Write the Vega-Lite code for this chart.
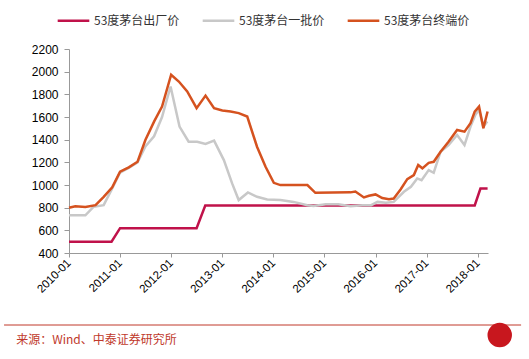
{
  "$schema": "https://vega.github.io/schema/vega-lite/v6.json",
  "background": "white",
  "padding": {"left": 3, "top": 3, "right": 5, "bottom": 4},
  "config": {"view": {"stroke": null}, "font": "Liberation Sans", "concat": {"spacing": 72}},
  "datasets": {
    "prices": [
      {"series": "53度茅台出厂价", "date": "2010-01-01", "value": 499},
      {"series": "53度茅台出厂价", "date": "2010-11-01", "value": 499},
      {"series": "53度茅台出厂价", "date": "2011-01-01", "value": 619},
      {"series": "53度茅台出厂价", "date": "2012-07-01", "value": 619},
      {"series": "53度茅台出厂价", "date": "2012-09-01", "value": 819},
      {"series": "53度茅台出厂价", "date": "2017-12-10", "value": 819},
      {"series": "53度茅台出厂价", "date": "2018-01-20", "value": 969},
      {"series": "53度茅台出厂价", "date": "2018-03-12", "value": 969},

      {"series": "53度茅台一批价", "date": "2010-01-01", "value": 733},
      {"series": "53度茅台一批价", "date": "2010-04-28", "value": 733},
      {"series": "53度茅台一批价", "date": "2010-06-25", "value": 807},
      {"series": "53度茅台一批价", "date": "2010-09-06", "value": 822},
      {"series": "53度茅台一批价", "date": "2010-11-06", "value": 970},
      {"series": "53度茅台一批价", "date": "2011-01-01", "value": 1110},
      {"series": "53度茅台一批价", "date": "2011-03-04", "value": 1150},
      {"series": "53度茅台一批价", "date": "2011-05-06", "value": 1200},
      {"series": "53度茅台一批价", "date": "2011-07-01", "value": 1340},
      {"series": "53度茅台一批价", "date": "2011-09-01", "value": 1430},
      {"series": "53度茅台一批价", "date": "2011-10-28", "value": 1600},
      {"series": "53度茅台一批价", "date": "2011-12-28", "value": 1869},
      {"series": "53度茅台一批价", "date": "2012-03-01", "value": 1515},
      {"series": "53度茅台一批价", "date": "2012-05-05", "value": 1382},
      {"series": "53度茅台一批价", "date": "2012-07-05", "value": 1382},
      {"series": "53度茅台一批价", "date": "2012-09-03", "value": 1362},
      {"series": "53度茅台一批价", "date": "2012-11-03", "value": 1391},
      {"series": "53度茅台一批价", "date": "2013-01-12", "value": 1220},
      {"series": "53度茅台一批价", "date": "2013-03-12", "value": 1014},
      {"series": "53度茅台一批价", "date": "2013-04-28", "value": 867},
      {"series": "53度茅台一批价", "date": "2013-07-03", "value": 934},
      {"series": "53度茅台一批价", "date": "2013-09-06", "value": 896},
      {"series": "53度茅台一批价", "date": "2013-11-18", "value": 872},
      {"series": "53度茅台一批价", "date": "2014-02-20", "value": 867},
      {"series": "53度茅台一批价", "date": "2014-05-25", "value": 851},
      {"series": "53度茅台一批价", "date": "2014-09-01", "value": 822},
      {"series": "53度茅台一批价", "date": "2014-10-15", "value": 815},
      {"series": "53度茅台一批价", "date": "2015-01-10", "value": 831},
      {"series": "53度茅台一批价", "date": "2015-04-10", "value": 831},
      {"series": "53度茅台一批价", "date": "2015-07-06", "value": 813},
      {"series": "53度茅台一批价", "date": "2015-10-01", "value": 822},
      {"series": "53度茅台一批价", "date": "2015-12-01", "value": 822},
      {"series": "53度茅台一批价", "date": "2016-01-15", "value": 851},
      {"series": "53度茅台一批价", "date": "2016-03-15", "value": 843},
      {"series": "53度茅台一批价", "date": "2016-05-10", "value": 851},
      {"series": "53度茅台一批价", "date": "2016-07-22", "value": 940},
      {"series": "53度茅台一批价", "date": "2016-09-10", "value": 984},
      {"series": "53度茅台一批价", "date": "2016-10-25", "value": 1058},
      {"series": "53度茅台一批价", "date": "2016-11-25", "value": 1043},
      {"series": "53度茅台一批价", "date": "2017-01-15", "value": 1132},
      {"series": "53度茅台一批价", "date": "2017-02-20", "value": 1108},
      {"series": "53度茅台一批价", "date": "2017-04-10", "value": 1294},
      {"series": "53度茅台一批价", "date": "2017-06-06", "value": 1353},
      {"series": "53度茅台一批价", "date": "2017-08-06", "value": 1441},
      {"series": "53度茅台一批价", "date": "2017-09-28", "value": 1353},
      {"series": "53度茅台一批价", "date": "2017-11-10", "value": 1515},
      {"series": "53度茅台一批价", "date": "2017-12-15", "value": 1619},
      {"series": "53度茅台一批价", "date": "2018-01-10", "value": 1663},
      {"series": "53度茅台一批价", "date": "2018-02-10", "value": 1515},
      {"series": "53度茅台一批价", "date": "2018-03-10", "value": 1560},

      {"series": "53度茅台终端价", "date": "2010-01-01", "value": 800},
      {"series": "53度茅台终端价", "date": "2010-02-15", "value": 813},
      {"series": "53度茅台终端价", "date": "2010-04-28", "value": 807},
      {"series": "53度茅台终端价", "date": "2010-07-10", "value": 822},
      {"series": "53度茅台终端价", "date": "2010-09-06", "value": 896},
      {"series": "53度茅台终端价", "date": "2010-11-06", "value": 979},
      {"series": "53度茅台终端价", "date": "2011-01-01", "value": 1117},
      {"series": "53度茅台终端价", "date": "2011-03-04", "value": 1156},
      {"series": "53度茅台终端价", "date": "2011-05-06", "value": 1205},
      {"series": "53度茅台终端价", "date": "2011-07-01", "value": 1397},
      {"series": "53度茅台终端价", "date": "2011-09-01", "value": 1559},
      {"series": "53度茅台终端价", "date": "2011-10-28", "value": 1692},
      {"series": "53度茅台终端价", "date": "2012-01-01", "value": 1973},
      {"series": "53度茅台终端价", "date": "2012-02-25", "value": 1913},
      {"series": "53度茅台终端价", "date": "2012-04-25", "value": 1825},
      {"series": "53度茅台终端价", "date": "2012-07-01", "value": 1678},
      {"series": "53度茅台终端价", "date": "2012-09-03", "value": 1789},
      {"series": "53度茅台终端价", "date": "2012-11-03", "value": 1678},
      {"series": "53度茅台终端价", "date": "2013-01-01", "value": 1657},
      {"series": "53度茅台终端价", "date": "2013-03-01", "value": 1648},
      {"series": "53度茅台终端价", "date": "2013-04-28", "value": 1634},
      {"series": "53度茅台终端价", "date": "2013-06-28", "value": 1604},
      {"series": "53度茅台终端价", "date": "2013-09-06", "value": 1338},
      {"series": "53度茅台终端价", "date": "2013-11-06", "value": 1161},
      {"series": "53度茅台终端价", "date": "2014-01-04", "value": 1019},
      {"series": "53度茅台终端价", "date": "2014-02-20", "value": 999},
      {"series": "53度茅台终端价", "date": "2014-09-01", "value": 999},
      {"series": "53度茅台终端价", "date": "2014-10-28", "value": 931},
      {"series": "53度茅台终端价", "date": "2015-07-06", "value": 935},
      {"series": "53度茅台终端价", "date": "2015-08-10", "value": 942},
      {"series": "53度茅台终端价", "date": "2015-10-10", "value": 890},
      {"series": "53度茅台终端价", "date": "2015-11-15", "value": 905},
      {"series": "53度茅台终端价", "date": "2016-01-01", "value": 917},
      {"series": "53度茅台终端价", "date": "2016-02-18", "value": 885},
      {"series": "53度茅台终端价", "date": "2016-04-06", "value": 875},
      {"series": "53度茅台终端价", "date": "2016-05-10", "value": 881},
      {"series": "53度茅台终端价", "date": "2016-06-28", "value": 961},
      {"series": "53度茅台终端价", "date": "2016-08-15", "value": 1052},
      {"series": "53度茅台终端价", "date": "2016-10-01", "value": 1088},
      {"series": "53度茅台终端价", "date": "2016-11-01", "value": 1176},
      {"series": "53度茅台终端价", "date": "2016-12-01", "value": 1147},
      {"series": "53度茅台终端价", "date": "2017-01-15", "value": 1196},
      {"series": "53度茅台终端价", "date": "2017-02-20", "value": 1205},
      {"series": "53度茅台终端价", "date": "2017-04-10", "value": 1294},
      {"series": "53度茅台终端价", "date": "2017-06-06", "value": 1382},
      {"series": "53度茅台终端价", "date": "2017-08-06", "value": 1486},
      {"series": "53度茅台终端价", "date": "2017-09-28", "value": 1471},
      {"series": "53度茅台终端价", "date": "2017-11-10", "value": 1545},
      {"series": "53度茅台终端价", "date": "2017-12-10", "value": 1648},
      {"series": "53度茅台终端价", "date": "2018-01-10", "value": 1692},
      {"series": "53度茅台终端价", "date": "2018-02-10", "value": 1501},
      {"series": "53度茅台终端价", "date": "2018-03-12", "value": 1648}
    ]
  },
  "resolve": {"scale": {"x": "independent", "y": "independent"}, "axis": {"x": "independent", "y": "independent"}},
  "bounds": "flush",
  "vconcat": [
    {
      "width": 419,
      "height": 204,
      "data": {"name": "prices"},
      "mark": {"type": "line", "strokeWidth": 2.5},
      "encoding": {
        "x": {
          "field": "date",
          "type": "temporal",
          "scale": {"type": "utc", "domain": [{"year": 2010, "month": 1, "date": 1, "utc": true}, {"year": 2018, "month": 3, "date": 15, "utc": true}]},
          "axis": {
            "title": null,
            "grid": false,
            "format": "%Y-%m",
            "values": [
              {"year": 2010, "month": 1, "date": 1, "utc": true},
              {"year": 2011, "month": 1, "date": 1, "utc": true},
              {"year": 2012, "month": 1, "date": 1, "utc": true},
              {"year": 2013, "month": 1, "date": 1, "utc": true},
              {"year": 2014, "month": 1, "date": 1, "utc": true},
              {"year": 2015, "month": 1, "date": 1, "utc": true},
              {"year": 2016, "month": 1, "date": 1, "utc": true},
              {"year": 2017, "month": 1, "date": 1, "utc": true},
              {"year": 2018, "month": 1, "date": 1, "utc": true}
            ],
            "labelAngle": -45,
            "labelAlign": "right",
            "labelBaseline": "middle",
            "labelFontSize": 11.5,
            "labelColor": "#000",
            "labelPadding": 4,
            "domainColor": "#999",
            "tickColor": "#999",
            "tickSize": 4,
            "labelOverlap": false,
            "labelFlush": false
          }
        },
        "y": {
          "field": "value",
          "type": "quantitative",
          "scale": {"domain": [400, 2200], "nice": false, "zero": false},
          "axis": {
            "title": null,
            "grid": false,
            "format": "d",
            "values": [400, 600, 800, 1000, 1200, 1400, 1600, 1800, 2000, 2200],
            "labelFontSize": 12,
            "labelColor": "#000",
            "labelPadding": 6,
            "domainColor": "#999",
            "tickColor": "#999",
            "tickSize": 5,
            "labelFlush": false
          }
        },
        "color": {
          "field": "series",
          "type": "nominal",
          "scale": {
            "domain": ["53度茅台出厂价", "53度茅台一批价", "53度茅台终端价"],
            "range": ["#C0124A", "#C8C8C8", "#D5521F"]
          },
          "legend": {
            "title": null,
            "orient": "none",
            "direction": "horizontal",
            "legendX": -13,
            "legendY": -46,
            "symbolType": "stroke",
            "symbolSize": 1000,
            "symbolStrokeWidth": 2.5,
            "labelFont": "Noto Sans CJK SC",
            "labelFontSize": 12,
            "labelColor": "#333",
            "columnPadding": 17,
            "labelOffset": 3
          }
        }
      }
    },
    {
      "width": 419,
      "height": 28,
      "data": {"values": [{}]},
      "layer": [
        {
          "mark": {"type": "rule", "color": "#C0392B", "strokeWidth": 1},
          "encoding": {
            "x": {"datum": -0.155, "type": "quantitative", "scale": {"domain": [0, 1]}, "axis": null},
            "x2": {"datum": 1.079},
            "y": {"datum": 1, "type": "quantitative", "scale": {"domain": [0, 1]}, "axis": null}
          }
        },
        {
          "mark": {"type": "text", "align": "left", "baseline": "middle", "font": "Noto Sans CJK SC", "fontSize": 12, "color": "#C0392B"},
          "encoding": {
            "x": {"datum": -0.126, "type": "quantitative", "scale": {"domain": [0, 1]}, "axis": null},
            "y": {"datum": 0.46, "type": "quantitative", "scale": {"domain": [0, 1]}, "axis": null},
            "text": {"value": "来源：Wind、中泰证券研究所"}
          }
        },
        {
          "mark": {"type": "point", "filled": true, "color": "#C8171E", "opacity": 1, "size": 600},
          "encoding": {
            "x": {"datum": 1.028, "type": "quantitative", "scale": {"domain": [0, 1]}, "axis": null},
            "y": {"datum": 0.64, "type": "quantitative", "scale": {"domain": [0, 1]}, "axis": null}
          }
        }
      ]
    }
  ]
}
